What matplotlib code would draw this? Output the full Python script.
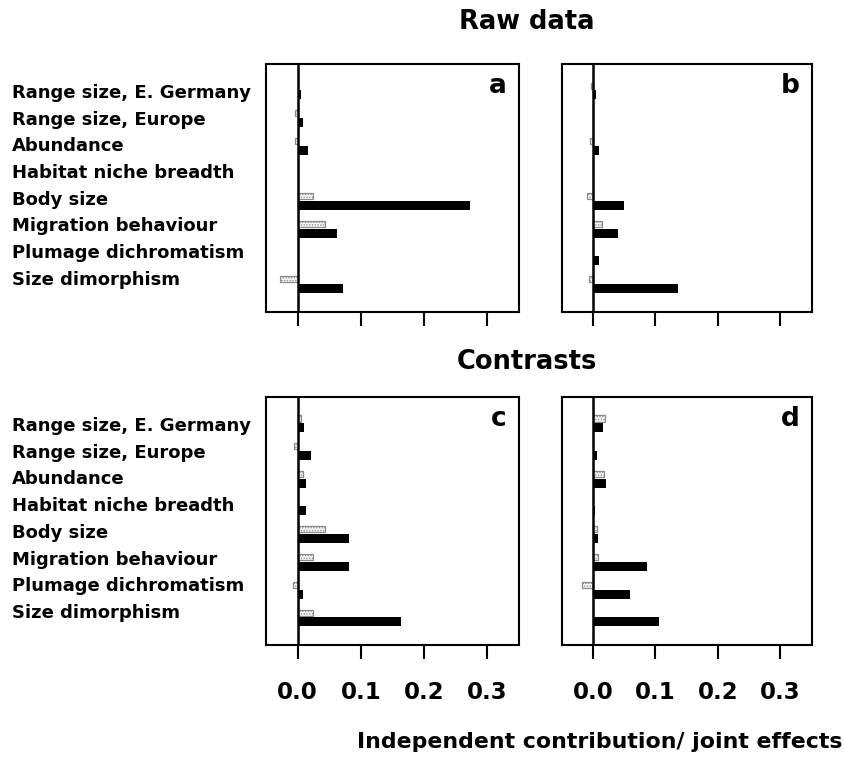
import matplotlib
matplotlib.use("Agg")
import matplotlib.pyplot as plt
import matplotlib.transforms as mtransforms
import numpy as np

plt.rcParams['font.family'] = 'DejaVu Sans'
plt.rcParams['font.weight'] = 'bold'
plt.rcParams['hatch.linewidth'] = 0.6

# predictor names (top to bottom)
variables = ["Range size, E. Germany", "Range size, Europe", "Abundance",
             "Habitat niche breadth", "Body size", "Migration behaviour",
             "Plumage dichromatism", "Size dimorphism"]

# black bars = independent contribution, dotted bars = joint effects
indep_a = [0.006, 0.008, 0.016, 0.0, 0.272, 0.062, 0.0, 0.072]
joint_a = [0.0, -0.004, -0.004, 0.0, 0.025, 0.044, 0.0, -0.028]

indep_b = [0.005, 0.0, 0.010, 0.0, 0.050, 0.040, 0.010, 0.137]
joint_b = [-0.003, 0.0, -0.005, 0.0, -0.009, 0.014, 0.0, -0.006]

indep_c = [0.010, 0.021, 0.013, 0.014, 0.081, 0.081, 0.009, 0.164]
joint_c = [0.006, -0.006, 0.008, 0.0, 0.044, 0.025, -0.007, 0.024]

indep_d = [0.017, 0.007, 0.021, 0.004, 0.008, 0.087, 0.059, 0.106]
joint_d = [0.020, 0.0, 0.018, 0.0, 0.006, 0.009, -0.018, 0.0]

xticks = [0.0, 0.1, 0.2, 0.3]
xticklabels = ["0.0", "0.1", "0.2", "0.3"]

fig = plt.figure(figsize=(8.44, 7.73), dpi=100)

W, H = 844.0, 773.0
rects = {
    'a': [266 / W, (H - 311.5) / H, 253 / W, 247.5 / H],
    'b': [561.5 / W, (H - 311.5) / H, 250 / W, 247.5 / H],
    'c': [266 / W, (H - 645) / H, 253 / W, 248.3 / H],
    'd': [561.5 / W, (H - 645) / H, 250 / W, 248.3 / H],
}
panels = [('a', indep_a, joint_a), ('b', indep_b, joint_b),
          ('c', indep_c, joint_c), ('d', indep_d, joint_d)]

y = np.arange(1, len(variables) + 1)

for letter, indep, joint in panels:
    ax = fig.add_axes(rects[letter])
    ax.barh(y - 0.166, joint, height=0.22, color='#f4f4f4', edgecolor='#8a8a8a',
            hatch='......', linewidth=0.9, zorder=2)
    ax.barh(y + 0.166, indep, height=0.32, color='black', linewidth=0, zorder=3)
    ax.axvline(0, color='black', lw=1.8, zorder=4)
    ax.set_xlim(-0.05, 0.35)
    ax.set_ylim(9.0, 0.05)
    ax.set_yticks([])
    ax.set_xticks(xticks)
    ax.tick_params(axis='x', direction='out', length=10, width=1.5, pad=16,
                   labelsize=16.5)
    if letter in ('a', 'b'):
        ax.set_xticklabels([])
    else:
        ax.set_xticklabels(xticklabels, fontweight='bold')
    for sp in ax.spines.values():
        sp.set_linewidth(1.5)
    ax.text(0.951, 0.882, letter, transform=ax.transAxes, ha='right',
            va='baseline', fontsize=19, fontweight='bold')
    if letter in ('a', 'c'):
        tr = mtransforms.blended_transform_factory(fig.transFigure, ax.transData)
        for i, name in enumerate(variables):
            ax.text(12 / W, 1.1 + 0.965 * i, name, transform=tr, ha='left',
                    va='center', fontsize=13, fontweight='bold')

fig.text(527 / W, 1 - 22.3 / H, "Raw data", ha='center', va='center',
         fontsize=18.5, fontweight='bold')
fig.text(527 / W, 1 - 361.7 / H, "Contrasts", ha='center', va='center',
         fontsize=18.5, fontweight='bold')
fig.text(600 / W, 1 - 748.3 / H, "Independent contribution/ joint effects",
         ha='center', va='baseline', fontsize=15.8, fontweight='bold')

fig.savefig("out.png", dpi=100)
